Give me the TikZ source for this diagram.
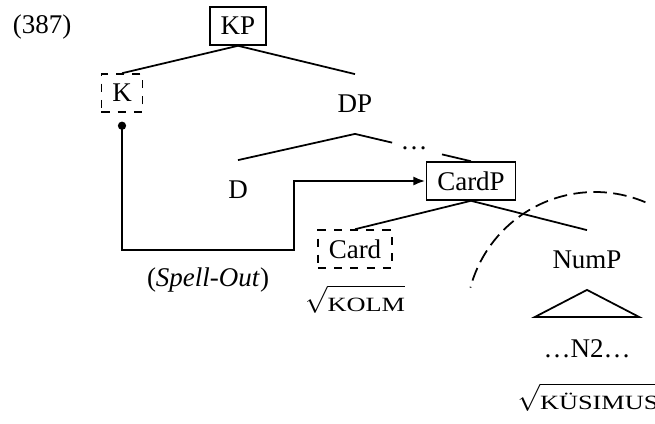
\documentclass[tikz,border=0pt]{standalone}
\usepackage{fontspec}
\setmainfont{Liberation Serif}
\usepackage{amsmath}
\usepackage{graphicx}
\usetikzlibrary{arrows.meta}
\newcommand{\rootlbl}[1]{$\sqrt{\rule{0pt}{7.8pt}\mbox{\scalebox{1.3}[1]{\fontsize{7.5pt}{9pt}\selectfont #1}}}$}

\tikzset{
  boxed/.style={draw, inner xsep=4pt, minimum height=14pt},
  dboxed/.style={boxed, dashed},
  bare/.style={minimum height=21.5pt},
  spellout/.style={line width=0.9pt, shorten <=3.3pt, {Circle[length=3pt]}-{Latex[length=4.5pt]}}
}

\begin{document}
\begin{tikzpicture}[x=0.3704pt, y=0.3704pt, line width=0.65pt]
        \useasboundingbox (0,0) rectangle (655,423);
        \node[anchor=west, inner xsep=0pt] (ex) at (12,396) {(387)};
        \node[boxed] (KP) at (238,397) {KP};
        \node[dboxed] (K) at (122,330) {K};
        \node[bare] (DP) at (355,319) {DP};
        \node[bare] (D) at (238,233) {D};
        \node[boxed] (CardP) at (471,242) {CardP};
        \node[dboxed] (Card) at (355,174) {Card};
        \node[bare] (NumP) at (587,163) {NumP};
        \node (gap) at (414,275) {\dots};
        \node (so) at (208,143) {(\textit{Spell-Out})};
        \node (kolm) at (355,124) {\rootlbl{KOLM}};
        \node (N2) at (587,74) {\dots N2\dots};
        \node (kys) at (588,26) {\rootlbl{KÜSIMUS}};
        \foreach \a/\b in {KP/K, KP/DP, DP/D, CardP/Card, CardP/NumP}
            \draw (\a.south) -- (\b.north);
        \path (DP.south) -- (CardP.north) coordinate[pos=0.32] (g1) coordinate[pos=0.75] (g2);
        \draw (DP.south) -- (g1); \draw (g2) -- (CardP.north);
        \draw (NumP.south) -- ++(-52,-27) -- ++(104,0) -- cycle;
        \coordinate (turn) at (294,173);
        \draw[spellout] (K.south) |- (turn) |- (CardP.west);
        \draw[dash pattern=on 5pt off 2.4pt] (595,102) ++(67:129) arc[start angle=67, end angle=165, radius=129];
    \end{tikzpicture}
\end{document}
